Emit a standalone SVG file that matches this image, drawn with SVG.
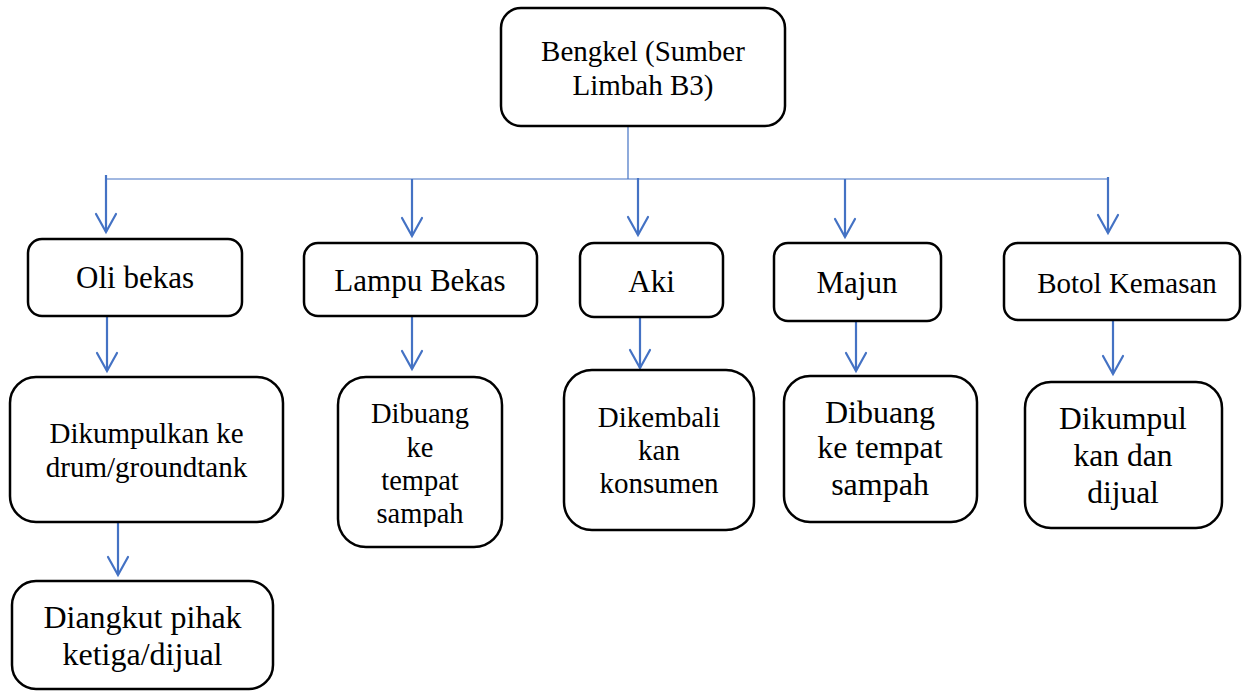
<svg xmlns="http://www.w3.org/2000/svg" width="1242" height="691" viewBox="0 0 1242 691">
  <style>
    .box { fill: #ffffff; stroke: #000000; stroke-width: 2.5; }
    .t { font-family: "Liberation Serif", "Times New Roman", Times, serif; fill: #000000; text-anchor: middle; }
    .thin { stroke: #4472C4; stroke-width: 1.2; fill: none; }
    .arr { stroke: #4472C4; stroke-width: 2.2; fill: none; marker-end: url(#vhead); }
  </style>
  <defs>
    <marker id="vhead" markerUnits="userSpaceOnUse" viewBox="0 0 20 22" markerWidth="20" markerHeight="22" refX="19" refY="11" orient="auto" overflow="visible">
      <path d="M1,1 L19,11 L1,21" fill="none" stroke="#4472C4" stroke-width="2.2" stroke-linecap="round" stroke-linejoin="miter"/>
    </marker>
    <clipPath id="clipLampu">
      <rect x="338" y="377" width="164" height="150"/>
    </clipPath>
  </defs>

  <rect width="1242" height="691" fill="#ffffff"/>

  <g id="connectors">
    <line class="thin" x1="628" y1="126" x2="628" y2="179"/>
    <line class="thin" x1="106" y1="179" x2="1108" y2="179"/>
    <line class="arr" x1="106" y1="175" x2="106" y2="232"/>
    <line class="arr" x1="412" y1="179" x2="412" y2="236"/>
    <line class="arr" x1="638" y1="178" x2="638" y2="235"/>
    <line class="arr" x1="845" y1="179" x2="845" y2="237"/>
    <line class="arr" x1="1108" y1="177" x2="1108" y2="233"/>
    <line class="arr" x1="107" y1="316" x2="107" y2="371"/>
    <line class="arr" x1="118" y1="520" x2="118" y2="575"/>
    <line class="arr" x1="412" y1="316" x2="412" y2="369"/>
    <line class="arr" x1="640" y1="317" x2="640" y2="368"/>
    <line class="arr" x1="856" y1="321" x2="856" y2="371"/>
    <line class="arr" x1="1113" y1="320" x2="1113" y2="374"/>
  </g>

  <g id="node-bengkel">
    <rect class="box" x="501" y="8" width="284" height="118" rx="20"/>
    <text class="t" font-size="29"><tspan x="643" y="61">Bengkel (Sumber</tspan><tspan x="643" y="95">Limbah B3)</tspan></text>
  </g>

  <g id="node-oli">
    <rect class="box" x="28" y="239" width="214" height="77" rx="14"/>
    <text class="t" font-size="31" x="135" y="288">Oli bekas</text>
  </g>

  <g id="node-lampu">
    <rect class="box" x="304" y="243" width="233" height="73" rx="14"/>
    <text class="t" font-size="31" x="420" y="291">Lampu Bekas</text>
  </g>

  <g id="node-aki">
    <rect class="box" x="580" y="243" width="143" height="74" rx="14"/>
    <text class="t" font-size="31" x="651.5" y="292">Aki</text>
  </g>

  <g id="node-majun">
    <rect class="box" x="774" y="243" width="167" height="78" rx="14"/>
    <text class="t" font-size="31" x="857" y="293">Majun</text>
  </g>

  <g id="node-botol">
    <rect class="box" x="1004" y="243" width="236" height="77" rx="14"/>
    <text class="t" font-size="29" x="1127" y="293">Botol Kemasan</text>
  </g>

  <g id="node-dikumpulkan">
    <rect class="box" x="10" y="377" width="273" height="145" rx="26"/>
    <text class="t" font-size="29"><tspan x="146.5" y="443">Dikumpulkan ke</tspan><tspan x="146.5" y="477">drum/groundtank</tspan></text>
  </g>

  <g id="node-diangkut">
    <rect class="box" x="12" y="581" width="261" height="108" rx="24"/>
    <text class="t" font-size="32"><tspan x="142.5" y="628">Diangkut pihak</tspan><tspan x="142.5" y="665">ketiga/dijual</tspan></text>
  </g>

  <g id="node-dibuang-lampu">
    <rect class="box" x="338" y="377" width="164" height="170" rx="28"/>
    <text class="t" font-size="28.5" clip-path="url(#clipLampu)"><tspan x="420" y="423">Dibuang</tspan><tspan x="420" y="457">ke</tspan><tspan x="420" y="490">tempat</tspan><tspan x="420" y="523">sampah</tspan></text>
  </g>

  <g id="node-dikembali">
    <rect class="box" x="564" y="370" width="190" height="160" rx="28"/>
    <text class="t" font-size="29"><tspan x="659" y="427">Dikembali</tspan><tspan x="659" y="460">kan</tspan><tspan x="659" y="493">konsumen</tspan></text>
  </g>

  <g id="node-dibuang-majun">
    <rect class="box" x="784" y="376" width="193" height="146" rx="26"/>
    <text class="t" font-size="32"><tspan x="880" y="423">Dibuang</tspan><tspan x="880" y="458">ke tempat</tspan><tspan x="880" y="495">sampah</tspan></text>
  </g>

  <g id="node-dikumpul">
    <rect class="box" x="1025" y="382" width="197" height="146" rx="26"/>
    <text class="t" font-size="31.5"><tspan x="1123" y="429">Dikumpul</tspan><tspan x="1123" y="466">kan dan</tspan><tspan x="1123" y="503">dijual</tspan></text>
  </g>
</svg>
